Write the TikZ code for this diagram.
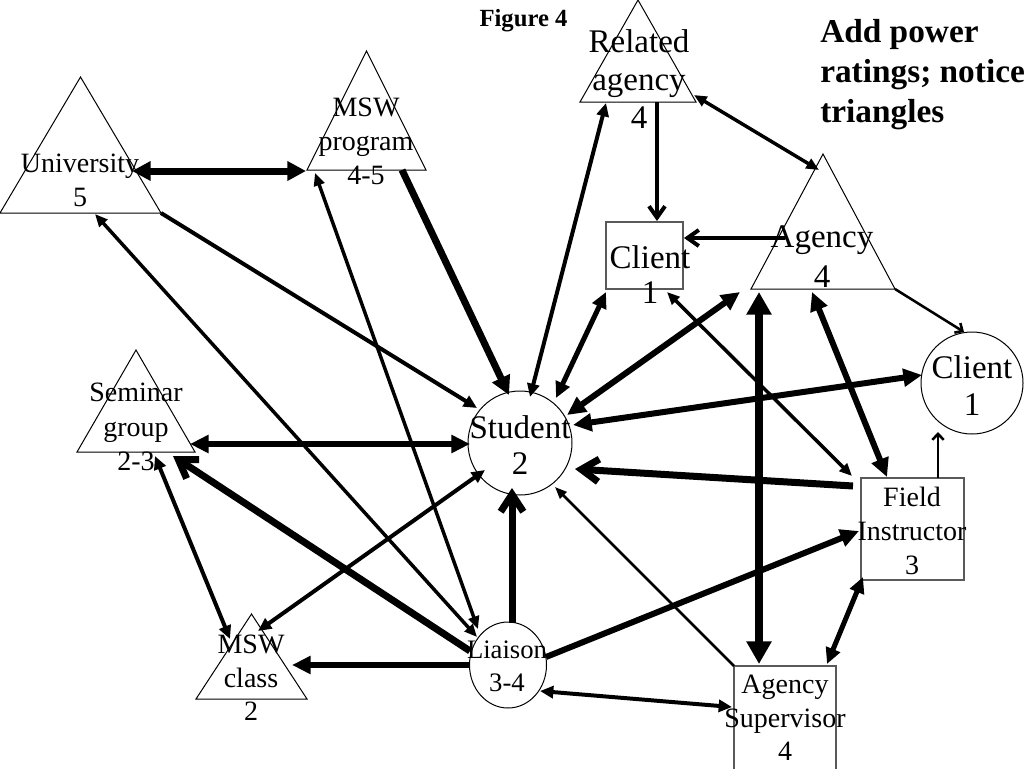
\documentclass[tikz,border=0pt]{standalone}
\usepackage{fontspec}
\setmainfont{Liberation Serif}
\usetikzlibrary{arrows.meta,calc,shapes.geometric}
\begin{document}
\begin{tikzpicture}[x=0.75pt,y=-0.75pt,
  shp/.style={draw=black, line width=0.75pt},
  boxs/.style={draw=black!65, line width=0.9pt, rectangle, inner sep=0pt, outer sep=0pt},
  trib/.style={rectangle, inner sep=0pt, outer sep=0pt},
  lbl/.style={align=center, inner sep=0pt, font=\fontsize{21pt}{25.5pt}\selectfont},
  w1/.style={line width=1.9pt},
  w2/.style={line width=2.6pt},
  w3/.style={line width=3pt},
  w4/.style={line width=3.75pt},
  w5/.style={line width=4.5pt},
  w6/.style={line width=5.25pt},
  w7/.style={line width=6pt},
  TA/.tip={Triangle[length=9pt,width=7pt]},
  TB/.tip={Triangle[length=9.5pt,width=8pt]},
  TC/.tip={Triangle[length=10pt,width=9pt]},
  TD/.tip={Triangle[length=12pt,width=11pt]},
  TE/.tip={Triangle[length=14pt,width=13pt]},
  TF/.tip={Triangle[length=14pt,width=14pt]},
  TG/.tip={Triangle[length=17pt,width=18pt]},
  CA/.tip={Straight Barb[length=4.5pt,width=8.5pt]},
  CC/.tip={Straight Barb[length=8.5pt,width=12pt]},
  CF/.tip={Straight Barb[length=13pt,width=17pt]}
]
\path[fill=white,use as bounding box] (0,0) rectangle (1024,768);

% ---- shapes ----
\node[trib, minimum width=120.75pt, minimum height=102pt] (uni) at (80.5,145) {};
\node[trib, minimum width=89.25pt, minimum height=89.25pt] (msw) at (366.5,110.5) {};
\node[trib, minimum width=87pt, minimum height=76.5pt] (rel) at (638,51) {};
\node[trib, minimum width=108pt, minimum height=101.25pt] (age) at (823,221.5) {};
\node[trib, minimum width=88.5pt, minimum height=76.5pt] (sem) at (136,401) {};
\node[trib, minimum width=83.25pt, minimum height=63.75pt] (cls) at (251.5,656.5) {};
\foreach \t in {uni,msw,rel,age,sem,cls}
  \draw[shp] (\t.south west) -- (\t.north) -- (\t.south east) -- cycle;

\node[shp, circle, inner sep=0pt, minimum size=78pt] (stu) at (520,443) {};
\node[shp, circle, inner sep=0pt, minimum size=76.5pt] (cli2) at (972,383) {};
\node[shp, ellipse, inner sep=0pt, minimum width=57.75pt, minimum height=64.5pt] (lia) at (508,665) {};
\node[boxs, minimum width=57.75pt, minimum height=50.25pt] (cli1) at (644.5,255.5) {};
\node[boxs, minimum width=77.25pt, minimum height=76.5pt] (fld) at (912.5,529) {};
\node[boxs, minimum width=76.5pt, minimum height=79.5pt] (sup) at (785,719) {};

% ---- labels ----
\node[lbl] (uniT) at (80,180.5) {University\\5};
\node[lbl] (mswT) at (366,141.5) {MSW\\program\\4-5};
\node[lbl, font=\fontsize{24.75pt}{28.5pt}\selectfont] (relT) at (639,78.8) {Related\\agency\\4};
\node[lbl, font=\fontsize{24.75pt}{30pt}\selectfont] (ageT) at (822,256.8) {Agency\\4};
\node[lbl, font=\fontsize{24.75pt}{26.25pt}\selectfont] (cli1T) at (650,274.3) {Client\\1};
\node[lbl, font=\fontsize{24.75pt}{27.75pt}\selectfont] (cli2T) at (972,385.3) {Client\\1};
\node[lbl, font=\fontsize{24.75pt}{27pt}\selectfont] (stuT) at (520,444.8) {Student\\2};
\node[lbl, font=\fontsize{21pt}{25.9pt}\selectfont] (semT) at (136,427) {Seminar\\group\\2-3};
\node[lbl, font=\fontsize{21pt}{25.1pt}\selectfont] (clsT) at (251,678) {MSW\\class\\2};
\node[lbl, font=\fontsize{20pt}{24.75pt}\selectfont] (liaT) at (507,666.5) {Liaison\\3-4};
\node[lbl] (fldT) at (912,530.5) {Field\\Instructor\\3};
\node[lbl, font=\fontsize{21pt}{25.1pt}\selectfont] (supT) at (785,718) {Agency\\Supervisor\\4};

\node[anchor=base, inner sep=0pt, font=\fontsize{18.5pt}{22pt}\selectfont\bfseries] (fig) at (523.5,26) {Figure 4};
\node[anchor=north west, align=left, inner sep=0pt, font=\fontsize{25pt}{30pt}\selectfont\bfseries] (note) at (820,19.5) {Add power\\ratings; notice\\triangles};

% ---- connectors ----
\draw[w6, TF-TF] ($(uni)+(51.5,26)$) -- ($(msw)+(-60.5,60.5)$);
\draw[w3, -TC] (uni.south east) -- ($(stu)+(-43,-35)$);
\draw[w2, TB-TB] ($(uni)+(14.5,69)$) -- ($(lia)+(-31,-28)$);
\draw[w2, TB-TB] ($(msw)+(-51.5,62.5)$) -- ($(lia)+(-30,-36)$);
\draw[w6, -TF] ($(msw)+(35.5,59.5)$) -- ($(stu)+(-11,-48)$);
\draw[w3, TC-TC] ($(stu)+(10,-46)$) -- ($(rel)+(-32,52)$);
\draw[w4, TD-TD] ($(stu)+(36,-45)$) -- ($(cli1)+(-38.5,36.5)$);
\draw[w5, TE-TE] ($(stu)+(47,-28)$) -- ($(age)+(-83,70.5)$);
\draw[w5, TE-TE] ($(cli2)+(-50,-8)$) -- ($(stu)+(53,-18)$);
\draw[w6, -CF] ($(fld)+(-59.5,-43)$) -- ($(stu)+(55,26)$);
\draw[w1, -TA] (sup.north west) -- ($(stu)+(35,44)$);
\draw[w6, -CF] ($(lia)+(4,-42)$) -- ($(stu)+(-8,45)$);
\draw[w3, TC-TC] ($(stu)+(-35,27)$) -- ($(cls)+(6.5,-25.5)$);
\draw[w5, TE-TE] ($(sem)+(54,43)$) -- ($(stu)+(-50,1)$);
\draw[w6, -CF] ($(lia)+(-38,-14)$) -- ($(sem)+(37,55)$);
\draw[w3, TC-TC] ($(sem)+(19,55)$) -- ($(cls)+(-21.5,-17.5)$);
\draw[w5, -TE] ($(lia)+(-39,0)$) -- ($(cls)+(40.5,8.5)$);
\draw[w5, -TE] ($(lia)+(38,-8)$) -- ($(fld)+(-53.5,2)$);
\draw[w3, TC-TC] ($(lia)+(32,26)$) -- ($(sup)+(-53,-12)$);
\draw[w7, TG-TG] ($(age)+(-64,70.5)$) -- ($(sup)+(-26,-55)$);
\draw[w5, TE-TE] ($(age)+(-11,70.5)$) -- ($(fld)+(-25.5,-52)$);
\draw[w4, TD-TD] ($(fld)+(-49.5,48)$) -- ($(sup)+(42,-55)$);
\draw[w1, -CA] ($(fld)+(25.5,-51)$) -- ($(cli2)+(-34,49)$);
\draw[w1, -CA] (age.south east) -- ($(cli2)+(-8,-51)$);
\draw[w2, TB-TB] ($(cli1)+(22.5,36.5)$) -- ($(fld)+(-60.5,-53)$);
\draw[w3, -CC] ($(age)+(-38,16.5)$) -- ($(cli1)+(39.5,-17.5)$);
\draw[w3, -CC] ($(rel)+(19,51)$) -- ($(cli1)+(12.5,-34.5)$);
\draw[w2, TB-TB] ($(rel)+(56,44)$) -- ($(age)+(-4,-51.5)$);
\end{tikzpicture}
\end{document}
